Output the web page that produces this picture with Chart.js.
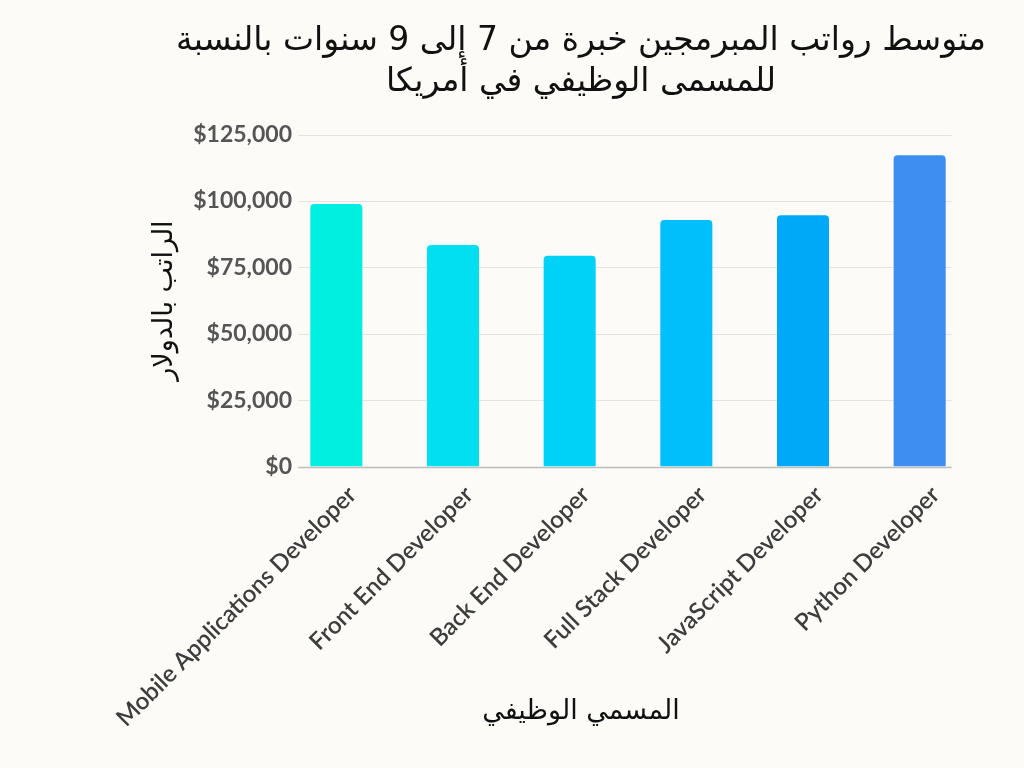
<!DOCTYPE html>
<html>
<head>
<meta charset="utf-8">
<script src="https://cdn.jsdelivr.net/npm/chart.js@4/dist/chart.umd.min.js"></script>
<style>
  html, body { margin: 0; padding: 0; background: #fcfbf7; }
  #wrap { width: 1024px; height: 768px; }
</style>
</head>
<body>
<div id="wrap"><canvas id="c" width="1024" height="768"></canvas></div>
<script>
const categories = [
  "Mobile Applications Developer",
  "Front End Developer",
  "Back End Developer",
  "Full Stack Developer",
  "JavaScript Developer",
  "Python Developer"
];
const salaries = [98800, 83400, 79400, 92800, 94600, 117200];
const barColors = ["#00efe0", "#00e0f0", "#00d1f7", "#00bffa", "#00a9f8", "#3d8ef0"];
const yTicks = [0, 25000, 50000, 75000, 100000, 125000];
const titleLines = ["متوسط رواتب المبرمجين خبرة من 7 إلى 9 سنوات بالنسبة", "للمسمى الوظيفي في أمريكا"];
const yTitle = "الراتب بالدولار";
const xTitle = "المسمي الوظيفي";

const arabicFont = "'DejaVu Sans', 'Noto Sans', sans-serif";

const bgPlugin = {
  id: 'bg',
  beforeDraw(chart) {
    const ctx = chart.ctx;
    ctx.save();
    ctx.fillStyle = '#fcfbf7';
    ctx.fillRect(0, 0, chart.width, chart.height);
    ctx.restore();
  }
};

const gridPlugin = {
  id: 'customGrid',
  beforeDatasetsDraw(chart) {
    const meta = chart.getDatasetMeta(0);
    if (!meta.data.length) return;
    const first = meta.data[0], last = meta.data[meta.data.length - 1];
    const x0 = first.x - first.width / 2 - 12;
    const x1 = last.x + last.width / 2 + 6;
    const y = chart.scales.y;
    const ctx = chart.ctx;
    ctx.save();
    y.ticks.forEach(t => {
      const py = Math.round(y.getPixelForValue(t.value)) + 0.5;
      ctx.beginPath();
      ctx.strokeStyle = t.value === 0 ? '#bdbdbd' : '#e3e3e3';
      ctx.lineWidth = t.value === 0 ? 1.5 : 1;
      ctx.moveTo(x0, py);
      ctx.lineTo(x1, py);
      ctx.stroke();
    });
    ctx.restore();
  }
};

new Chart(document.getElementById('c'), {
  type: 'bar',
  data: {
    labels: categories,
    datasets: [{
      data: salaries,
      backgroundColor: barColors,
      borderRadius: 4,
      borderSkipped: 'start',
      categoryPercentage: 1,
      barPercentage: 0.446
    }]
  },
  options: {
    responsive: false,
    animation: false,
    devicePixelRatio: 1,
    layout: { padding: { left: 138, right: 0, top: 0, bottom: 0 } },
    plugins: {
      legend: { display: false },
      tooltip: { enabled: false },
      title: {
        display: true,
        text: titleLines,
        color: '#111',
        font: { family: arabicFont, size: 33, weight: 'normal', lineHeight: 1.25 },
        padding: { top: 21, bottom: 31 },
        rtl: true
      },
      subtitle: {
        display: true,
        position: 'bottom',
        text: xTitle,
        color: '#111',
        font: { family: arabicFont, size: 27, weight: 'normal', lineHeight: 1.2 },
        padding: { top: 0, bottom: 40 },
        rtl: true
      }
    },
    scales: {
      x: {
        grid: { display: false, drawTicks: false },
        border: { display: false },
        ticks: {
          color: '#3d3d3d',
          font: { family: 'Lato', size: 24, weight: '600' },
          minRotation: 45,
          maxRotation: 45,
          autoSkip: false,
          padding: 14,
          labelOffset: 16
        },
        afterFit(s) {
          s.height = 229;
          s._computeLabelArea = () => undefined;
        }
      },
      y: {
        min: 0,
        max: 125000,
        afterBuildTicks(s) { s.ticks = yTicks.map(v => ({ value: v })); },
        grid: { display: false, drawTicks: false },
        border: { display: false },
        ticks: {
          color: '#555',
          font: { family: 'Lato', size: 23, weight: 'bold' },
          padding: -14,
          callback: v => '$' + Number(v).toLocaleString('en-US')
        },
        title: {
          display: true,
          text: yTitle,
          color: '#111',
          font: { family: arabicFont, size: 27, weight: 'normal', lineHeight: 1.2 },
          padding: { top: 11, bottom: 0 }
        },
        afterFit(s) {
          s.width = 140;
          s._computeLabelArea = () => undefined;
        }
      },
      y2: {
        position: 'right',
        display: true,
        grid: { display: false, drawTicks: false },
        border: { display: false },
        ticks: { display: false },
        afterFit(s) { s.width = 46; }
      }
    }
  },
  plugins: [bgPlugin, gridPlugin]
});
</script>
</body>
</html>
